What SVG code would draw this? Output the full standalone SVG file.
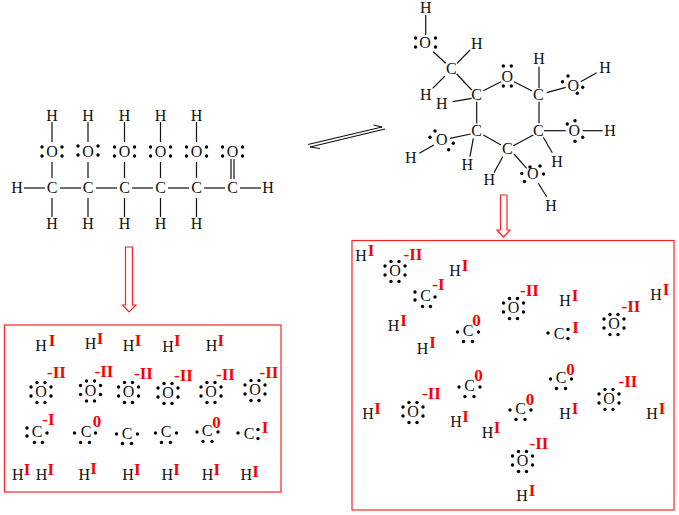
<svg xmlns="http://www.w3.org/2000/svg" width="679" height="515" viewBox="0 0 679 515">
<style>
text{font-family:"Liberation Serif","Times New Roman",serif;text-anchor:middle}
.a{font-size:16px;fill:#111}
.r{font-size:17px;font-weight:bold;fill:#f00}
.b line{stroke:#111;stroke-width:1.2}
.p{fill:none;stroke:#f22;stroke-width:1.2}
circle{r:1.7px}
</style>
<defs>
<g id="lr"><circle cx="-10" cy="-5"/><circle cx="-10" cy="4"/><circle cx="10" cy="-5"/><circle cx="10" cy="4"/></g>
<g id="tb"><circle cx="-4" cy="-12"/><circle cx="4" cy="-12"/><circle cx="-4" cy="8"/><circle cx="4" cy="8"/></g>
<g id="o8"><use href="#lr"/><g transform="translate(0,2.5)"><use href="#tb"/></g></g>
<g id="c4"><circle cx="-10.5" cy="1"/><circle cx="10.5" cy="1"/><circle cx="-4.5" cy="10.5"/><circle cx="4.5" cy="10.5"/></g>
<g id="c5"><circle cx="-10.5" cy="-4"/><circle cx="-10.5" cy="4"/><circle cx="9.5" cy="1"/><circle cx="-3" cy="10.5"/><circle cx="5" cy="10.5"/></g>
<g id="c3"><circle cx="-11" cy="-1"/><circle cx="9" cy="-4.5"/><circle cx="9" cy="4.5"/></g>
</defs>

<g id="connectors" class="b">
<line x1="52" y1="122" x2="52" y2="142"/><line x1="88" y1="122" x2="88" y2="142"/><line x1="124.5" y1="122" x2="124.5" y2="142"/><line x1="160.5" y1="122" x2="160.5" y2="142"/><line x1="196.5" y1="122" x2="196.5" y2="142"/>
<line x1="52" y1="162" x2="52" y2="178"/><line x1="88" y1="162" x2="88" y2="178"/><line x1="124.5" y1="162" x2="124.5" y2="178"/><line x1="160.5" y1="162" x2="160.5" y2="178"/><line x1="196.5" y1="162" x2="196.5" y2="178"/>
<line x1="231" y1="159" x2="231" y2="179"/><line x1="234" y1="159" x2="234" y2="179"/>
<line x1="52" y1="198" x2="52" y2="217"/><line x1="88" y1="198" x2="88" y2="217"/><line x1="124.5" y1="198" x2="124.5" y2="217"/><line x1="160.5" y1="198" x2="160.5" y2="217"/><line x1="196.5" y1="198" x2="196.5" y2="217"/>
<line x1="24" y1="188" x2="45" y2="188"/><line x1="60" y1="188" x2="81" y2="188"/><line x1="96" y1="188" x2="117" y2="188"/><line x1="132" y1="188" x2="153" y2="188"/><line x1="168" y1="188" x2="189" y2="188"/><line x1="204" y1="188" x2="225" y2="188"/><line x1="240" y1="188" x2="261" y2="188"/>
<line x1="425.7" y1="15" x2="425.7" y2="35"/><line x1="433.3" y1="51.7" x2="445.7" y2="63.3"/><line x1="457" y1="63.3" x2="470" y2="50"/><line x1="445" y1="76" x2="432.7" y2="88.3"/><line x1="456.7" y1="74" x2="471.7" y2="90"/><line x1="471.7" y1="98.3" x2="452.7" y2="101.7"/><line x1="483.3" y1="90.7" x2="501" y2="81.7"/><line x1="514" y1="81.7" x2="531.7" y2="90.7"/><line x1="539" y1="88.3" x2="539" y2="66.7"/><line x1="546.7" y1="92.7" x2="565.7" y2="87.3"/><line x1="580.7" y1="81.7" x2="596.7" y2="72.7"/><line x1="539" y1="101.7" x2="539" y2="123.3"/><line x1="544" y1="130.7" x2="565.7" y2="130.7"/><line x1="582.7" y1="130.7" x2="602.7" y2="130.7"/><line x1="543.3" y1="137.3" x2="552.3" y2="152.7"/><line x1="533.3" y1="135" x2="513.3" y2="145.7"/><line x1="514" y1="154" x2="526.7" y2="168.3"/><line x1="538.3" y1="183.3" x2="546.7" y2="196.7"/><line x1="502.7" y1="156.7" x2="494" y2="172.7"/><line x1="501" y1="145" x2="483.3" y2="135"/><line x1="476.7" y1="123.3" x2="476.7" y2="101.7"/><line x1="473.3" y1="138.3" x2="470" y2="156.7"/><line x1="470.7" y1="134" x2="450" y2="138.3"/><line x1="434" y1="145" x2="419.3" y2="153.3"/>
</g>

<g id="equilibrium" class="b">
<line x1="308" y1="144.5" x2="382" y2="127"/><line x1="373.5" y1="125" x2="382" y2="127"/>
<line x1="385" y1="129" x2="310" y2="147"/><line x1="310" y1="147" x2="320" y2="148.5"/>
</g>
<path id="arrow-left" class="p" d="M125.5 247H132.5V305H136L129 312L122.5 305H125.5Z"/>
<path id="arrow-right" class="p" d="M500.5 195H507V230H510L503.5 237L497 230H500.5Z"/>
<rect id="panel-left" class="p" x="4.5" y="325" width="276.5" height="167"/>
<rect id="panel-right" class="p" x="352" y="240.5" width="322" height="269.5"/>

<g id="open-chain">
<g id="a1"><text class="a" x="52" y="121">H</text></g><g id="a2"><text class="a" x="88" y="121">H</text></g><g id="a3"><text class="a" x="124.5" y="121">H</text></g><g id="a4"><text class="a" x="160.5" y="121">H</text></g><g id="a5"><text class="a" x="196.5" y="121">H</text></g>
<g id="a6"><text class="a" x="52" y="157">O</text><use href="#lr" x="52" y="152"/></g>
<g id="a7"><text class="a" x="88" y="157">O</text><use href="#lr" x="88" y="151"/></g>
<g id="a8"><text class="a" x="124.5" y="157">O</text><use href="#lr" x="124.5" y="152"/></g>
<g id="a9"><text class="a" x="160.5" y="157">O</text><use href="#lr" x="160.5" y="152"/></g>
<g id="a10"><text class="a" x="196.5" y="157">O</text><use href="#lr" x="196.5" y="152"/></g>
<g id="a11"><text class="a" x="232.5" y="157">O</text><use href="#lr" x="232.5" y="152"/></g>
<g id="a12"><text class="a" x="17" y="193">H</text></g>
<g id="a13"><text class="a" x="52" y="193">C</text></g><g id="a14"><text class="a" x="88" y="193">C</text></g><g id="a15"><text class="a" x="124.5" y="193">C</text></g><g id="a16"><text class="a" x="160.5" y="193">C</text></g><g id="a17"><text class="a" x="196.5" y="193">C</text></g><g id="a18"><text class="a" x="232.5" y="193">C</text></g>
<g id="a19"><text class="a" x="268" y="193">H</text></g>
<g id="a20"><text class="a" x="52" y="229">H</text></g><g id="a21"><text class="a" x="88" y="229">H</text></g><g id="a22"><text class="a" x="124.5" y="229">H</text></g><g id="a23"><text class="a" x="160.5" y="229">H</text></g><g id="a24"><text class="a" x="196.5" y="229">H</text></g>
</g>

<g id="ring">
<g id="b1"><text class="a" x="425.7" y="13">H</text></g>
<g id="b2"><text class="a" x="425" y="48">O</text><use href="#lr" x="425.5" y="43"/></g>
<g id="b3"><text class="a" x="476.7" y="49">H</text></g>
<g id="b4"><text class="a" x="451.3" y="74">C</text></g>
<g id="b5"><text class="a" x="425.7" y="100">H</text></g>
<g id="b6"><text class="a" x="476.7" y="100">C</text></g>
<g id="b7"><text class="a" x="441.7" y="109">H</text></g>
<g id="b8"><text class="a" x="507.3" y="82">O</text><use href="#tb" x="507.3" y="78"/></g>
<g id="b9"><text class="a" x="538.3" y="100">C</text></g>
<g id="b10"><text class="a" x="539" y="64">H</text></g>
<g id="b11"><text class="a" x="573.3" y="91">O</text><circle cx="568" cy="76"/><circle cx="562.5" cy="81.7"/><circle cx="582.7" cy="87.3"/><circle cx="577.3" cy="93.3"/></g>
<g id="b12"><text class="a" x="605" y="73">H</text></g>
<g id="b13"><text class="a" x="538.3" y="136">C</text></g>
<g id="b14"><text class="a" x="574.3" y="136">O</text><circle cx="575" cy="120.7"/><circle cx="567.3" cy="124"/><circle cx="582.7" cy="137.3"/><circle cx="575" cy="141.3"/></g>
<g id="b15"><text class="a" x="610" y="136">H</text></g>
<g id="b16"><text class="a" x="557" y="167">H</text></g>
<g id="b17"><text class="a" x="507.3" y="154">C</text></g>
<g id="b18"><text class="a" x="532.7" y="179">O</text><circle cx="530" cy="167"/><circle cx="540" cy="166"/><circle cx="521.7" cy="173.5"/><circle cx="524.5" cy="181.5"/><circle cx="543.5" cy="174"/></g>
<g id="b19"><text class="a" x="551" y="211">H</text></g>
<g id="b20"><text class="a" x="489.3" y="185">H</text></g>
<g id="b21"><text class="a" x="476.7" y="136">C</text></g>
<g id="b22"><text class="a" x="467.3" y="170">H</text></g>
<g id="b23"><text class="a" x="441.7" y="145">O</text><circle cx="435" cy="131"/><circle cx="430" cy="137.3"/><circle cx="453.3" cy="143.3"/><circle cx="448.7" cy="149.7"/></g>
<g id="b24"><text class="a" x="410.7" y="163">H</text></g>
</g>

<g id="left-atoms">
<g id="l1"><text class="a" x="41" y="351">H</text><text class="r" x="52" y="346">I</text></g>
<g id="l2"><text class="a" x="90.5" y="349">H</text><text class="r" x="100" y="344">I</text></g>
<g id="l3"><text class="a" x="128.5" y="351">H</text><text class="r" x="138" y="346">I</text></g>
<g id="l4"><text class="a" x="168" y="352">H</text><text class="r" x="177.3" y="346">I</text></g>
<g id="l5"><text class="a" x="211.5" y="351">H</text><text class="r" x="220.8" y="346">I</text></g>
<g id="l6"><text class="a" x="41" y="397">O</text><use href="#o8" x="41" y="392"/><text class="r" x="56.5" y="378">-II</text></g>
<g id="l7"><text class="a" x="90.5" y="395.5">O</text><use href="#o8" x="90.5" y="390.5"/><text class="r" x="104" y="377">-II</text></g>
<g id="l8"><text class="a" x="128.5" y="397">O</text><use href="#o8" x="128.5" y="392"/><text class="r" x="143.5" y="379">-II</text></g>
<g id="l9"><text class="a" x="168" y="398">O</text><use href="#o8" x="168" y="393"/><text class="r" x="183.5" y="381">-II</text></g>
<g id="l10"><text class="a" x="211" y="397">O</text><use href="#o8" x="211" y="392"/><text class="r" x="225.5" y="380">-II</text></g>
<g id="l11"><text class="a" x="255" y="395">O</text><use href="#o8" x="255" y="390"/><text class="r" x="269" y="378">-II</text></g>
<g id="l12"><text class="a" x="37" y="437">C</text><use href="#c5" x="37.5" y="432"/><text class="r" x="48.5" y="425">-I</text></g>
<g id="l13"><text class="a" x="86" y="437">C</text><use href="#c4" x="85" y="432"/><text class="r" x="97" y="427">0</text></g>
<g id="l14"><text class="a" x="127" y="439">C</text><use href="#c4" x="127" y="433"/></g>
<g id="l15"><text class="a" x="166" y="437">C</text><use href="#c4" x="166" y="432"/></g>
<g id="l16"><text class="a" x="207" y="436">C</text><use href="#c4" x="207.5" y="431"/><text class="r" x="216.5" y="428">0</text></g>
<g id="l17"><text class="a" x="249" y="439">C</text><use href="#c3" x="249" y="434"/><text class="r" x="265" y="433">I</text></g>
<g id="l18"><text class="a" x="17.7" y="480">H</text><text class="r" x="27" y="475">I</text></g>
<g id="l19"><text class="a" x="41.5" y="480">H</text><text class="r" x="50.8" y="475">I</text></g>
<g id="l20"><text class="a" x="84.2" y="480">H</text><text class="r" x="93.5" y="474">I</text></g>
<g id="l21"><text class="a" x="128" y="480">H</text><text class="r" x="137.3" y="475">I</text></g>
<g id="l22"><text class="a" x="167.2" y="480">H</text><text class="r" x="176.5" y="475">I</text></g>
<g id="l23"><text class="a" x="207.5" y="480">H</text><text class="r" x="216.8" y="475">I</text></g>
<g id="l24"><text class="a" x="246.2" y="480">H</text><text class="r" x="255.5" y="477">I</text></g>
</g>

<g id="right-atoms">
<g id="r1"><text class="a" x="361" y="261">H</text><text class="r" x="371" y="256">I</text></g>
<g id="r2"><text class="a" x="395" y="276">O</text><use href="#o8" x="395" y="271"/><text class="r" x="413" y="260">-II</text></g>
<g id="r3"><text class="a" x="455" y="276">H</text><text class="r" x="465" y="271">I</text></g>
<g id="r4"><text class="a" x="425.5" y="301">C</text><use href="#c5" x="425.5" y="296"/><text class="r" x="438.5" y="290">-I</text></g>
<g id="r5"><text class="a" x="513.5" y="313">O</text><use href="#o8" x="513.5" y="308"/><text class="r" x="529.5" y="296">-II</text></g>
<g id="r6"><text class="a" x="565" y="306">H</text><text class="r" x="575" y="301">I</text></g>
<g id="r7"><text class="a" x="656" y="300">H</text><text class="r" x="666" y="295">I</text></g>
<g id="r8"><text class="a" x="614" y="329">O</text><use href="#o8" x="614" y="324"/><text class="r" x="631" y="312">-II</text></g>
<g id="r9"><text class="a" x="393.5" y="331">H</text><text class="r" x="403.5" y="326">I</text></g>
<g id="r10"><text class="a" x="468" y="336">C</text><use href="#c4" x="468" y="331"/><text class="r" x="476.5" y="326">0</text></g>
<g id="r11"><text class="a" x="422.5" y="354">H</text><text class="r" x="432.5" y="348">I</text></g>
<g id="r12"><text class="a" x="559" y="339">C</text><use href="#c3" x="559" y="334"/><text class="r" x="575.5" y="333">I</text></g>
<g id="r13"><text class="a" x="368" y="419">H</text><text class="r" x="377.5" y="414">I</text></g>
<g id="r14"><text class="a" x="413" y="417">O</text><use href="#o8" x="413" y="412"/><text class="r" x="431.5" y="399">-II</text></g>
<g id="r15"><text class="a" x="469.5" y="391">C</text><use href="#c4" x="469.5" y="386"/><text class="r" x="478.5" y="381">0</text></g>
<g id="r16"><text class="a" x="456" y="427">H</text><text class="r" x="465.5" y="422">I</text></g>
<g id="r17"><text class="a" x="520.5" y="414">C</text><use href="#c4" x="520.5" y="409"/><text class="r" x="530" y="405">0</text></g>
<g id="r18"><text class="a" x="487.5" y="438">H</text><text class="r" x="497" y="433">I</text></g>
<g id="r19"><text class="a" x="561" y="383">C</text><use href="#c4" x="561" y="378"/><text class="r" x="570.5" y="375">0</text></g>
<g id="r20"><text class="a" x="565" y="419">H</text><text class="r" x="575" y="414">I</text></g>
<g id="r21"><text class="a" x="609" y="404">O</text><use href="#o8" x="609" y="399"/><text class="r" x="628" y="387">-II</text></g>
<g id="r22"><text class="a" x="652" y="419">H</text><text class="r" x="662" y="414">I</text></g>
<g id="r23"><text class="a" x="522.5" y="466">O</text><use href="#o8" x="522.5" y="461"/><text class="r" x="539" y="449">-II</text></g>
<g id="r24"><text class="a" x="522" y="501">H</text><text class="r" x="532" y="496">I</text></g>
</g>
</svg>
